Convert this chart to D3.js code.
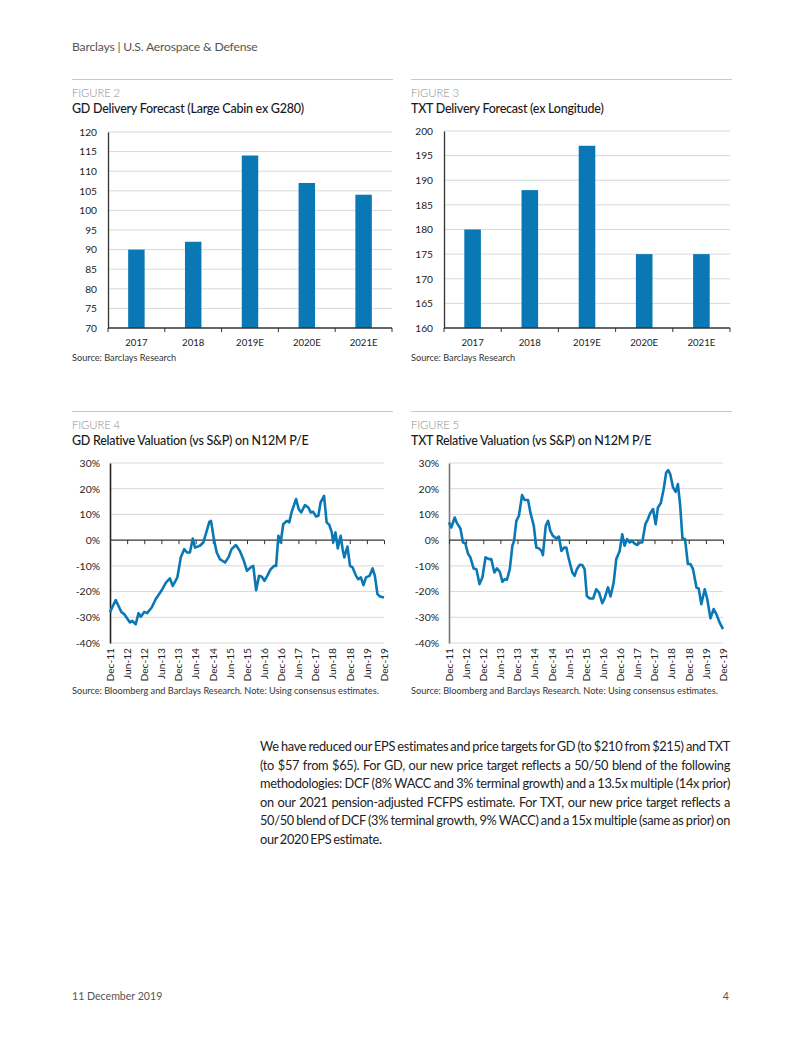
<!DOCTYPE html>
<html><head><meta charset="utf-8">
<script src="https://cdn.jsdelivr.net/npm/d3@7"></script>
<style>
html,body{margin:0;padding:0;background:#fff;}
body{width:802px;height:1037px;position:relative;overflow:hidden;font-family:"Lato","Noto Sans",sans-serif;}
svg{position:absolute;left:0;top:0;}
#para{position:absolute;left:260px;top:737px;width:470px;font-size:12.8px;line-height:18.6px;color:#222;font-family:"Lato",sans-serif;word-spacing:-1px;}
#para div{text-align:justify;text-align-last:justify;}
#para div.last{text-align-last:left;}
#measure{position:absolute;left:-2000px;top:0;white-space:nowrap;font-size:12.8px;font-family:"Lato",sans-serif;word-spacing:-1px;}
</style></head>
<body>
<div id="para"></div>
<span id="measure"></span>
<script>
// ---------- DATA ----------
const barCategories = ["2017","2018","2019E","2020E","2021E"];
const gdDeliveries = [90, 92, 114, 107, 104];
const txtDeliveries = [180, 188, 197, 175, 175];
const gdBarTicks = [70,75,80,85,90,95,100,105,110,115,120];
const txtBarTicks = [160,165,170,175,180,185,190,195,200];

const lineTickLabels = ["Dec-11","Jun-12","Dec-12","Jun-13","Dec-13","Jun-14","Dec-14","Jun-15","Dec-15","Jun-16","Dec-16","Jun-17","Dec-17","Jun-18","Dec-18","Jun-19","Dec-19"];
const lineTickMonths = [0,6,12,18,24,30,36,42,48,54,60,66,72,78,84,90,96]; // months since Dec-11
const pctTicks = [30,20,10,0,-10,-20,-30,-40];

// GD relative valuation: months since Dec-11, % premium vs S&P
const gdMonths = [0,2,4,5,7,7.8,9,10,10.8,12,13,14.6,16,18,19.6,21,22,23.6,24.8,26,27,28,29,29.8,31.5,32.7,33.9,34.8,35.4,36.4,37.4,38.5,40.3,41.5,42.6,44.1,45.5,46.7,48,49.3,50.2,51.2,52.2,53.1,54.1,55.1,56.3,57.5,58.2,59,59.8,60.7,61.9,62.8,63.6,65.2,66.1,67,68.3,69.5,70.3,71.2,72.2,73,73.8,75,75.9,76.8,77.7,78.2,79,79.8,80.8,81.5,82.1,83.2,84.1,85,86.2,87,87.9,88.8,89.7,90.9,92,92.8,93.7,94.6,96];
const gdValues = [-28,-23.3,-28,-28.8,-32,-31.4,-32.7,-28.4,-29.8,-27.9,-28.4,-26.2,-23,-19.7,-16.5,-14.9,-17.8,-14.5,-6.7,-3.5,-4.8,-4.8,0.6,-2.9,-2.2,-0.9,3.6,7.1,7.5,0.4,-4.8,-7.4,-8.7,-6.7,-3.5,-1.9,-4.2,-7.4,-11.9,-10.6,-10,-19.5,-13.9,-14.1,-15.8,-13.9,-11.3,-10,-10,1.7,-0.9,6.2,7.5,6.9,10.8,16,12.1,10.8,13.6,12.7,10.8,11,9.2,9.5,14.7,17.2,6.9,6,3,-0.9,3,-3.2,1.7,-3.5,-6.7,-2.5,-10,-10.6,-13.9,-15.2,-14.5,-17.5,-14.5,-13.9,-11,-13.9,-21,-21.9,-22.3];

// TXT relative valuation
const txtMonths = [0,0.8,2,2.8,4,4.9,5.7,6.7,7.5,8.6,9.6,10.7,11.7,12.8,14,14.8,15.9,16.8,17.8,18.7,19.5,20.3,21.3,22.2,22.8,23.6,24.5,25.6,26.5,27.7,28.5,29.7,30.6,31.5,32.4,32.9,33.9,34.7,35.5,36.4,37.6,38.5,39.4,40.3,41.1,42,43.2,44,44.8,45.8,46.7,47.5,48.3,49.3,50.5,51.6,52.6,53.7,54.5,55.7,56.6,57.7,58.6,59.8,60.7,61.5,62.4,63.3,64.1,65,65.9,66.8,67.7,68.8,69.7,70.5,71.5,72.4,73.2,74.2,75.2,76.1,76.8,77.5,78.5,79.4,80.2,81,81.8,82.7,83.7,84.6,85.5,86.7,87.5,88.4,89.6,90.5,91.6,92.7,93.7,94.8,96];
const txtValues = [6.9,4.9,8.8,6.6,4.5,-0.9,-1.2,-5.4,-6.7,-11,-11.3,-17.1,-14.5,-6.7,-7.4,-7.4,-12.6,-11,-12.3,-16.2,-15.2,-15.4,-11.3,-2.2,-0.3,7.5,9.5,17.5,15.6,15.6,10.8,5.6,-2.9,-3.2,-4.2,-5.8,5.6,7.5,3.6,1.7,0.6,1.4,-4.2,-2.9,-2.9,-7.4,-12.6,-13.9,-11.3,-9.6,-9.7,-11.3,-21.7,-22.7,-22.7,-19.1,-20.4,-24.5,-22.7,-18.4,-21.9,-16.5,-7.4,-4.2,2.3,-2.2,0.4,-0.9,-0.3,-1.3,-1.9,-0.9,-0.9,6.2,8.2,10.5,12.1,6.2,12.7,14.4,19.8,26.3,27.2,25.7,20.5,18.8,21.8,13.4,0.6,0.4,-9.3,-9.3,-11.3,-18.4,-18.8,-24.9,-19.1,-23,-30.4,-26.8,-28.8,-32,-34.6];

const paraLines = [
 "We have reduced our EPS estimates and price targets for GD (to $210 from $215) and TXT",
 "(to $57 from $65). For GD, our new price target reflects a 50/50 blend of the following",
 "methodologies: DCF (8% WACC and 3% terminal growth) and a 13.5x multiple (14x prior)",
 "on our 2021 pension-adjusted FCFPS estimate. For TXT, our new price target reflects a",
 "50/50 blend of DCF (3% terminal growth, 9% WACC) and a 15x multiple (same as prior) on",
 "our 2020 EPS estimate."
];

// ---------- STYLE ----------
const BLUE = "#0a78b5";
const GRID = "#d9d9d9";
const FONT = "Lato, 'Noto Sans', sans-serif";

const svg = d3.select("body").append("svg").attr("width",802).attr("height",1037)
  .style("font-family", FONT);

// header
svg.append("text").attr("x",72).attr("y",50.5).attr("font-size",12.2).attr("fill","#555")
  .attr("letter-spacing",-0.2).text("Barclays | U.S. Aerospace & Defense");

function figHeader(x0, x1, ruleY, num, title, source, sourceY){
  svg.append("line").attr("x1",x0).attr("x2",x1).attr("y1",ruleY).attr("y2",ruleY)
    .attr("stroke","#c8c8c8").attr("stroke-width",1);
  svg.append("text").attr("x",x0).attr("y",ruleY+17.5).attr("font-size",11.3).attr("fill","#8c8c8c")
    .attr("font-weight",300).attr("letter-spacing",-0.1).text("FIGURE " + num);
  svg.append("text").attr("x",x0).attr("y",ruleY+33.5).attr("font-size",12.5).attr("fill","#1a1a1a")
    .attr("font-weight",500).attr("letter-spacing",-0.25).text(title);
  svg.append("text").attr("x",x0).attr("y",sourceY).attr("font-size",9.2).attr("fill","#333")
    .text(source);
}

function barChart(cfg){
  const g = svg.append("g");
  const x = d3.scaleBand().domain(barCategories).range([cfg.left,cfg.right]).paddingInner(0.71).paddingOuter(0.355);
  const y = d3.scaleLinear().domain(cfg.domain).range([cfg.bottom,cfg.top]);
  g.selectAll(".grid").data(cfg.ticks.slice(1)).join("line")
    .attr("x1",cfg.left).attr("x2",cfg.right).attr("y1",d=>y(d)).attr("y2",d=>y(d))
    .attr("stroke",GRID).attr("stroke-width",1);
  g.selectAll(".bar").data(cfg.values).join("rect")
    .attr("x",(d,i)=>x(barCategories[i])).attr("width",x.bandwidth())
    .attr("y",d=>y(d)).attr("height",d=>cfg.bottom-y(d)).attr("fill",BLUE);
  const ya = d3.axisLeft(y).tickValues(cfg.ticks).tickSize(0).tickPadding(11);
  const yg = g.append("g").attr("transform",`translate(${cfg.left},0)`).call(ya);
  yg.select(".domain").attr("stroke","#333").attr("stroke-width",1.3);
  yg.selectAll("text").attr("font-size",10.2).attr("fill","#222").attr("font-family",FONT);
  const xg = g.append("g");
  xg.append("line").attr("x1",cfg.left).attr("x2",cfg.right).attr("y1",cfg.bottom).attr("y2",cfg.bottom)
    .attr("stroke","#333").attr("stroke-width",1.3);
  const step = x.step();
  const bounds = d3.range(barCategories.length+1).map(i=>x(barCategories[0]) - (step - x.bandwidth())/2 + i*step);
  xg.selectAll(".tk").data(bounds).join("line")
    .attr("x1",d=>d).attr("x2",d=>d).attr("y1",cfg.bottom).attr("y2",cfg.bottom+4)
    .attr("stroke","#333").attr("stroke-width",1);
  xg.selectAll(".lb").data(barCategories).join("text")
    .attr("x",d=>x(d)+x.bandwidth()/2).attr("y",cfg.bottom+17.5).attr("text-anchor","middle")
    .attr("font-size",9.6).attr("fill","#222").text(d=>d);
}

function lineChart(cfg){
  const g = svg.append("g");
  const x = d3.scaleLinear().domain([0,96]).range([cfg.left,cfg.right]);
  const y = d3.scaleLinear().domain([-40,30]).range([cfg.bottom,cfg.top]);
  g.selectAll(".grid").data(pctTicks.filter(d=>d!==0)).join("line")
    .attr("x1",cfg.left).attr("x2",cfg.right).attr("y1",d=>y(d)).attr("y2",d=>y(d))
    .attr("stroke",GRID).attr("stroke-width",1);
  const ya = d3.axisLeft(y).tickValues(pctTicks).tickSize(0).tickPadding(10).tickFormat(d=>d+"%");
  const yg = g.append("g").attr("transform",`translate(${cfg.left},0)`).call(ya);
  yg.select(".domain").attr("stroke",cfg.axisColor).attr("stroke-width",1.6);
  yg.selectAll("text").attr("font-size",10.4).attr("fill","#222").attr("font-family",FONT);
  const xa = d3.axisBottom(x).tickValues(lineTickMonths).tickSize(4).tickFormat("");
  const xg = g.append("g").attr("transform",`translate(0,${y(0)})`).call(xa);
  xg.select(".domain").attr("stroke","#333").attr("stroke-width",1.3).attr("d",`M${cfg.left},0H${cfg.right}`);
  xg.selectAll(".tick line").attr("stroke","#333");
  g.selectAll(".xl").data(lineTickLabels).join("text")
    .attr("transform",(d,i)=>`translate(${x(lineTickMonths[i])+3.8},${cfg.bottom+5}) rotate(-90)`)
    .attr("text-anchor","end").attr("font-size",10.2).attr("fill","#222").text(d=>d);
  const pts = cfg.months.map((m,i)=>[m,cfg.values[i]]);
  g.append("path").datum(pts)
    .attr("d",d3.line().x(d=>x(d[0])).y(d=>y(d[1])))
    .attr("fill","none").attr("stroke",BLUE).attr("stroke-width",2.6).attr("stroke-linejoin","round");
}

figHeader(72,393,79.5,2,"GD Delivery Forecast (Large Cabin ex G280)","Source: Barclays Research",361);
figHeader(411,732,79.5,3,"TXT Delivery Forecast (ex Longitude)","Source: Barclays Research",361);
figHeader(72,393,411.5,4,"GD Relative Valuation (vs S&P) on N12M P/E","Source: Bloomberg and Barclays Research. Note: Using consensus estimates.",693.5);
figHeader(411,732,411.5,5,"TXT Relative Valuation (vs S&P) on N12M P/E","Source: Bloomberg and Barclays Research. Note: Using consensus estimates.",693.5);

barChart({left:108,right:392,top:132,bottom:328,domain:[70,120],ticks:gdBarTicks,values:gdDeliveries});
barChart({left:444,right:730,top:131,bottom:328,domain:[160,200],ticks:txtBarTicks,values:txtDeliveries});

lineChart({left:110,right:384,top:463,bottom:643,months:gdMonths,values:gdValues,axisColor:"#222"});
lineChart({left:449,right:723,top:463,bottom:643,months:txtMonths,values:txtValues,axisColor:"#777"});

// paragraph: fit widest line into column via letter-spacing
const meas = document.getElementById("measure");
let maxW = 0, maxLen = 1;
paraLines.forEach(s=>{ meas.textContent = s; const w = meas.getBoundingClientRect().width; if(w>maxW){maxW=w; maxLen=s.length;} });
const ls = Math.min(0, (466 - maxW)/maxLen);
d3.select("#para").style("letter-spacing", ls+"px").selectAll("div").data(paraLines).join("div")
  .attr("class",(d,i)=>i===paraLines.length-1?"last":null).text(d=>d);
meas.remove();

// footer
svg.append("text").attr("x",72).attr("y",1000).attr("font-size",10.6).attr("fill","#555").text("11 December 2019");
svg.append("text").attr("x",729).attr("y",1000).attr("font-size",10.6).attr("fill","#555").attr("text-anchor","end").text("4");
</script>
</body></html>
